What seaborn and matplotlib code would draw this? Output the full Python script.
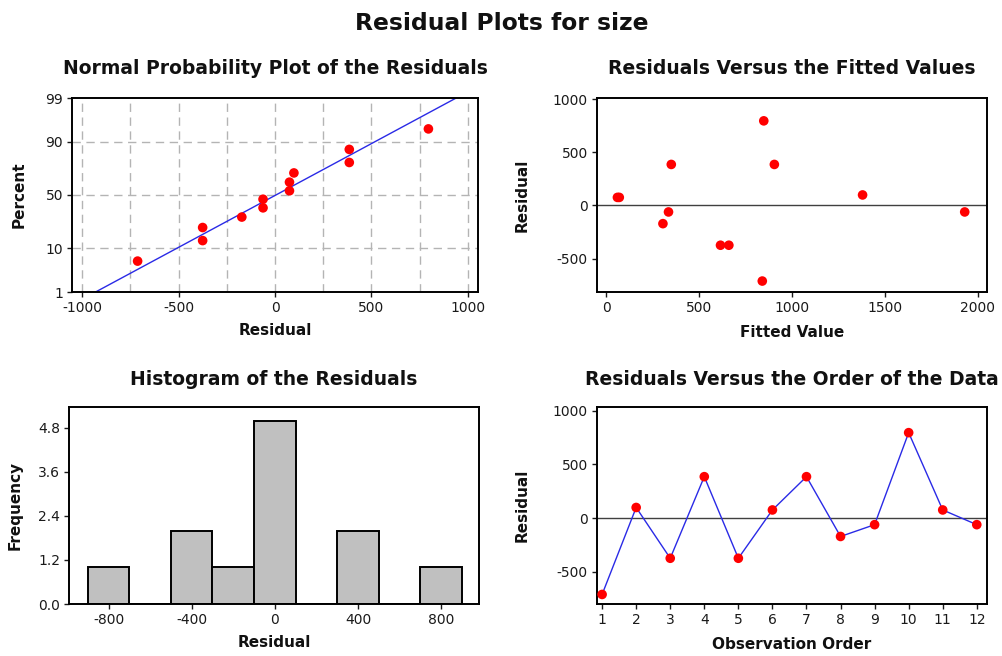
import numpy as np
import pandas as pd
import matplotlib
matplotlib.use("Agg")
import matplotlib.pyplot as plt
import seaborn as sns
from statistics import NormalDist

# ---- data ----
observation_order = [1, 2, 3, 4, 5, 6, 7, 8, 9, 10, 11, 12]
residuals = [-712, 98, -375, 385, -375, 75, 385, -172, -62, 795, 75, -62]
fitted_values = [840, 1380, 615, 350, 660, 60, 905, 305, 335, 848, 70, 1930]
hist_bin_edges = [-900, -700, -500, -300, -100, 100, 300, 500, 700, 900]
pp_yticks = [1, 10, 50, 90, 99]
pp_xticks = [-1000, -500, 0, 500, 1000]
fit_xticks = [0, 500, 1000, 1500, 2000]
res_yticks = [-500, 0, 500, 1000]
hist_xticks = [-800, -400, 0, 400, 800]
hist_yticks = [0.0, 1.2, 2.4, 3.6, 4.8]

sns.set_style("ticks")
plt.rcParams["font.family"] = ["DejaVu Sans"]
plt.rcParams["axes.unicode_minus"] = False
plt.rcParams["axes.linewidth"] = 1.4
plt.rcParams["xtick.major.width"] = 1.0
plt.rcParams["ytick.major.width"] = 1.0
plt.rcParams["xtick.major.size"] = 3.5
plt.rcParams["ytick.major.size"] = 3.5
plt.rcParams["xtick.color"] = "#1a1a1a"
plt.rcParams["ytick.color"] = "#1a1a1a"
plt.rcParams["text.color"] = "#111111"
plt.rcParams["axes.labelcolor"] = "#111111"

W, H = 1003, 656
fig = plt.figure(figsize=(W / 100, H / 100), dpi=100)


def add_ax(x0, y0, x1, y1):
    return fig.add_axes([x0 / W, 1 - y1 / H, (x1 - x0) / W, (y1 - y0) / H])


TICK_FS = 10
LAB_FS = 11
TITLE_FS = 13.5
RED = "#ff0000"
BLUE = "#2a2ae6"

df = pd.DataFrame({"order": observation_order, "resid": residuals, "fit": fitted_values})
n = len(residuals)

# ---------------- Normal probability plot ----------------
ax1 = add_ax(72, 98, 478, 292)
nd = NormalDist()
_ppf = np.vectorize(nd.inv_cdf, otypes=[float])
_cdf = np.vectorize(nd.cdf, otypes=[float])


def fwd(p):
    p = np.clip(np.asarray(p, dtype=float) / 100.0, 1e-9, 1 - 1e-9)
    return _ppf(p)


def inv(z):
    return _cdf(np.asarray(z, dtype=float)) * 100.0


ax1.set_yscale("function", functions=(fwd, inv))
sorted_res = np.sort(residuals)
ranks = np.arange(1, n + 1)
pct = (ranks - 0.3) / (n + 0.4) * 100
mu = float(np.mean(residuals))
sd = float(np.std(residuals, ddof=1))
dist = NormalDist(mu, sd)
line_x = np.array([dist.inv_cdf(0.01), dist.inv_cdf(0.99)])
line_p = np.array([1.0, 99.0])
for gx in np.arange(-1000, 1001, 250):
    ax1.axvline(gx, color="#b4b4b4", lw=1.0, ls=(0, (6, 4)), zorder=0)
for gy in [10, 50, 90]:
    ax1.axhline(gy, color="#b4b4b4", lw=1.0, ls=(0, (6, 4)), zorder=0)
sns.lineplot(x=line_x, y=line_p, ax=ax1, color=BLUE, lw=1.0, zorder=2)
sns.scatterplot(x=sorted_res, y=pct, ax=ax1, color=RED, s=48, edgecolor="none", zorder=3)
ax1.set_xlim(-1052, 1052)
ax1.set_ylim(1, 99)
ax1.set_yticks(pp_yticks)
ax1.set_yticklabels([str(v) for v in pp_yticks])
ax1.yaxis.set_minor_locator(matplotlib.ticker.NullLocator())
ax1.set_xticks(pp_xticks)
ax1.set_xlabel("Residual", fontsize=LAB_FS, fontweight="bold")
ax1.set_ylabel("Percent", fontsize=LAB_FS, fontweight="bold")
ax1.set_title("Normal Probability Plot of the Residuals", fontsize=TITLE_FS, fontweight="bold", pad=17)
ax1.yaxis.set_label_coords(-0.111, 0.5)
ax1.xaxis.set_label_coords(0.5, -0.160)

# ---------------- Residuals vs fitted ----------------
ax2 = add_ax(597, 98, 987, 292)
ax2.axhline(0, color="#404040", lw=1.0, zorder=1)
sns.scatterplot(data=df, x="fit", y="resid", ax=ax2, color=RED, s=48, edgecolor="none", zorder=3)
ax2.set_xlim(-50, 2050)
ax2.set_ylim(-815, 1010)
ax2.set_xticks(fit_xticks)
ax2.set_yticks(res_yticks)
ax2.set_xlabel("Fitted Value", fontsize=LAB_FS, fontweight="bold")
ax2.set_ylabel("Residual", fontsize=LAB_FS, fontweight="bold")
ax2.set_title("Residuals Versus the Fitted Values", fontsize=TITLE_FS, fontweight="bold", pad=17)
ax2.yaxis.set_label_coords(-0.172, 0.5)
ax2.xaxis.set_label_coords(0.5, -0.170)

# ---------------- Histogram ----------------
ax3 = add_ax(69, 407, 479, 604)
sns.histplot(x=residuals, bins=hist_bin_edges, ax=ax3, color="#c0c0c0", edgecolor="black",
             linewidth=1.4, alpha=1.0)
ax3.set_xlim(-990, 982)
ax3.set_ylim(0, 5.37)
ax3.set_xticks(hist_xticks)
ax3.set_yticks(hist_yticks)
ax3.set_yticklabels([f"{v:.1f}" for v in hist_yticks])
ax3.set_xlabel("Residual", fontsize=LAB_FS, fontweight="bold")
ax3.set_ylabel("Frequency", fontsize=LAB_FS, fontweight="bold")
ax3.set_title("Histogram of the Residuals", fontsize=TITLE_FS, fontweight="bold", pad=16)
ax3.yaxis.set_label_coords(-0.112, 0.5)
ax3.xaxis.set_label_coords(0.5, -0.155)

# ---------------- Residuals vs order ----------------
ax4 = add_ax(597, 407, 987, 604)
ax4.axhline(0, color="#404040", lw=1.0, zorder=1)
sns.lineplot(data=df, x="order", y="resid", ax=ax4, color=BLUE, lw=1.0, zorder=2)
sns.scatterplot(data=df, x="order", y="resid", ax=ax4, color=RED, s=48, edgecolor="none", zorder=3)
ax4.set_xlim(0.85, 12.3)
ax4.set_ylim(-801, 1034)
ax4.set_xticks(observation_order)
ax4.set_yticks(res_yticks)
ax4.set_xlabel("Observation Order", fontsize=LAB_FS, fontweight="bold")
ax4.set_ylabel("Residual", fontsize=LAB_FS, fontweight="bold")
ax4.set_title("Residuals Versus the Order of the Data", fontsize=TITLE_FS, fontweight="bold", pad=16)
ax4.yaxis.set_label_coords(-0.172, 0.5)
ax4.xaxis.set_label_coords(0.5, -0.165)

for ax in (ax1, ax2, ax3, ax4):
    for s in ax.spines.values():
        s.set_visible(True)
        s.set_color("black")
        s.set_linewidth(1.4)
    ax.tick_params(labelsize=TICK_FS, pad=3)

fig.text(0.5, 1 - 23 / H, "Residual Plots for size", ha="center", va="center",
         fontsize=16.8, fontweight="bold")

fig.savefig("out.png", dpi=100)
